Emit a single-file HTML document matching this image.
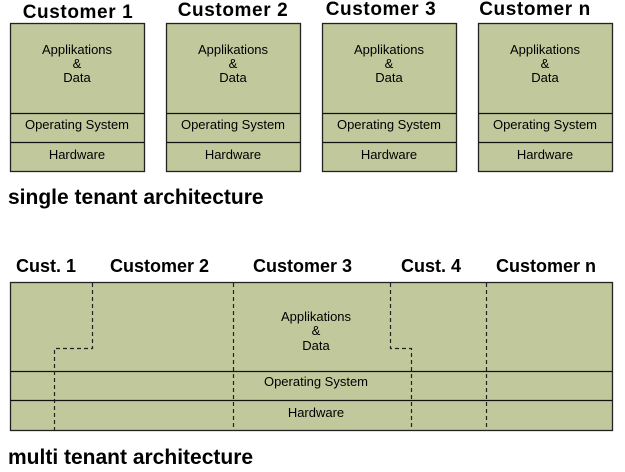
<!DOCTYPE html>
<html><head><meta charset="utf-8"><style>
html,body{margin:0;padding:0;background:#fff;}
svg{display:block;}
text{font-family:"Liberation Sans",Arial,sans-serif;fill:#000;}
.t{font-size:13px;text-anchor:middle;}
.h{font-size:18px;font-weight:bold;}
.hc{font-size:19px;font-weight:bold;text-anchor:middle;letter-spacing:0.6px;}
.box{fill:#c1c89c;stroke:#222;stroke-width:1.3;}
.ln{stroke:#111;stroke-width:1.3;}
.d{stroke:#222;stroke-width:1.2;stroke-dasharray:4,3;fill:none;}
</style></head><body>
<svg width="625" height="472" viewBox="0 0 625 472">
<text class="hc" x="78" y="18">Customer 1</text>
<text class="hc" x="233" y="16">Customer 2</text>
<text class="hc" x="381" y="15">Customer 3</text>
<text class="hc" x="535" y="15">Customer n</text>
<g>
<rect class="box" x="10.5" y="23.5" width="134" height="148"/>
<line class="ln" x1="10.5" y1="113.5" x2="144.5" y2="113.5"/>
<line class="ln" x1="10.5" y1="142.5" x2="144.5" y2="142.5"/>
<text class="t" x="77" y="54">Applikations</text><text class="t" x="77" y="68">&amp;</text><text class="t" x="77" y="82">Data</text>
<text class="t" x="77" y="129">Operating System</text><text class="t" x="77" y="159">Hardware</text>
</g>
<g transform="translate(156,0)">
<rect class="box" x="10.5" y="23.5" width="134" height="148"/>
<line class="ln" x1="10.5" y1="113.5" x2="144.5" y2="113.5"/>
<line class="ln" x1="10.5" y1="142.5" x2="144.5" y2="142.5"/>
<text class="t" x="77" y="54">Applikations</text><text class="t" x="77" y="68">&amp;</text><text class="t" x="77" y="82">Data</text>
<text class="t" x="77" y="129">Operating System</text><text class="t" x="77" y="159">Hardware</text>
</g>
<g transform="translate(312,0)">
<rect class="box" x="10.5" y="23.5" width="134" height="148"/>
<line class="ln" x1="10.5" y1="113.5" x2="144.5" y2="113.5"/>
<line class="ln" x1="10.5" y1="142.5" x2="144.5" y2="142.5"/>
<text class="t" x="77" y="54">Applikations</text><text class="t" x="77" y="68">&amp;</text><text class="t" x="77" y="82">Data</text>
<text class="t" x="77" y="129">Operating System</text><text class="t" x="77" y="159">Hardware</text>
</g>
<g transform="translate(468,0)">
<rect class="box" x="10.5" y="23.5" width="134" height="148"/>
<line class="ln" x1="10.5" y1="113.5" x2="144.5" y2="113.5"/>
<line class="ln" x1="10.5" y1="142.5" x2="144.5" y2="142.5"/>
<text class="t" x="77" y="54">Applikations</text><text class="t" x="77" y="68">&amp;</text><text class="t" x="77" y="82">Data</text>
<text class="t" x="77" y="129">Operating System</text><text class="t" x="77" y="159">Hardware</text>
</g>
<text class="h" x="8" y="204" style="font-size:21px">single tenant architecture</text>

<text class="h" x="16" y="272">Cust. 1</text>
<text class="h" x="110" y="272">Customer 2</text>
<text class="h" x="253" y="272">Customer 3</text>
<text class="h" x="401" y="272">Cust. 4</text>
<text class="h" x="496" y="272">Customer n</text>
<rect class="box" x="10.5" y="282.5" width="602" height="148"/>
<line class="ln" x1="10.5" y1="371.5" x2="612.5" y2="371.5"/>
<line class="ln" x1="10.5" y1="400.5" x2="612.5" y2="400.5"/>
<polyline class="d" points="92.5,283 92.5,348.5 54.5,348.5 54.5,430"/>
<line class="d" x1="233.5" y1="283" x2="233.5" y2="430"/>
<polyline class="d" points="390.5,283 390.5,348.5 411.5,348.5 411.5,430"/>
<line class="d" x1="486.5" y1="283" x2="486.5" y2="430"/>
<text class="t" x="316" y="321">Applikations</text><text class="t" x="316" y="335">&amp;</text><text class="t" x="316" y="350">Data</text>
<text class="t" x="316" y="386">Operating System</text><text class="t" x="316" y="417">Hardware</text>
<text class="h" x="8" y="464" style="font-size:21px">multi tenant architecture</text>
</svg>
</body></html>
